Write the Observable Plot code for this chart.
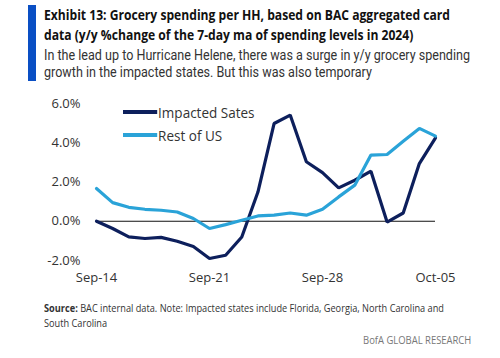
<!DOCTYPE html>
<html>
<head>
<meta charset="utf-8">
<script src="https://cdn.jsdelivr.net/npm/d3@7"></script>
<script src="https://cdn.jsdelivr.net/npm/@observablehq/plot@0.6"></script>
<style>
  html, body { margin: 0; padding: 0; background: #fff; }
  body { width: 500px; height: 358px; position: relative; overflow: hidden; font-family: "Open Sans", sans-serif; }
  .bar { position: absolute; left: 28px; top: 5px; width: 8px; height: 76px; background: #0a4fc4; }
  .fit { position: absolute; left: 44px; white-space: nowrap; transform-origin: left top; }
  .title { top: 5px; font-weight: 700; font-size: 14.5px; line-height: 20px; color: #111; }
  .subtitle { top: 48px; font-family: Roboto, "Open Sans", sans-serif; font-size: 14.5px; line-height: 16.5px; color: #333; }
  #chart { position: absolute; left: 0; top: 88px; }
  .legend { position: absolute; left: 123px; font-size: 15px; color: #333; display: flex; align-items: center; transform: scaleX(0.9); transform-origin: left center; }
  .legend .sw { width: 38px; height: 3.5px; margin-right: 1px; }
  .foot { top: 301px; font-size: 10.5px; line-height: 15px; color: #333; }
  .brand { position: absolute; right: 29px; top: 333px; font-size: 10.5px; color: #777; transform: scaleX(0.9); transform-origin: right top; }
</style>
</head>
<body>
<div class="bar"></div>
<div class="fit title" data-w="406">Exhibit 13: Grocery spending per HH, based on BAC aggregated card<br>data (y/y %change of the 7-day ma of spending levels in 2024)</div>
<div class="fit subtitle" data-w="426">In the lead up to Hurricane Helene, there was a surge in y/y grocery spending<br>growth in the impacted states. But this was also temporary</div>
<div id="chart"></div>
<div class="legend" style="top:102px"><div class="sw" style="background:#0d1f5c"></div>Impacted Sates</div>
<div class="legend" style="top:125px"><div class="sw" style="background:#2aa3d8"></div>Rest of US</div>
<div class="fit foot" data-w="400"><b>Source:</b> BAC internal data. Note: Impacted states include Florida, Georgia, North Carolina and<br>South Carolina</div>
<div class="brand">BofA GLOBAL RESEARCH</div>
<script>
document.querySelectorAll(".fit").forEach(el => {
  const w = el.getBoundingClientRect().width;
  el.style.transform = `scaleX(${(+el.dataset.w / w).toFixed(4)})`;
});

const dates = ["2024-09-14","2024-09-15","2024-09-16","2024-09-17","2024-09-18","2024-09-19","2024-09-20","2024-09-21","2024-09-22","2024-09-23","2024-09-24","2024-09-25","2024-09-26","2024-09-27","2024-09-28","2024-09-29","2024-09-30","2024-10-01","2024-10-02","2024-10-03","2024-10-04","2024-10-05"];
const impacted = [0.0,-0.37,-0.8,-0.88,-0.82,-1.02,-1.29,-1.9,-1.73,-0.8,1.49,4.98,5.41,3.03,2.48,1.7,2.09,2.55,-0.04,0.42,2.94,4.25];
const restOfUS = [1.67,0.95,0.71,0.61,0.56,0.47,0.14,-0.37,-0.17,0.05,0.27,0.31,0.42,0.31,0.61,1.24,1.84,3.37,3.4,4.08,4.73,4.34];
const seriesNames = ["Impacted Sates","Rest of US"];
const seriesColors = ["#0d1f5c","#2aa3d8"];
const yTicks = [-2,0,2,4,6];
const xTicks = ["2024-09-14","2024-09-21","2024-09-28","2024-10-05"];

const parse = d3.utcParse("%Y-%m-%d");
const rows = [];
dates.forEach((d, i) => {
  rows.push({date: parse(d), value: impacted[i], series: seriesNames[0]});
  rows.push({date: parse(d), value: restOfUS[i], series: seriesNames[1]});
});

const chart = Plot.plot({
  width: 500,
  height: 205,
  marginLeft: 96,
  marginRight: 65,
  marginTop: 15,
  marginBottom: 33,
  style: {fontFamily: "Open Sans, sans-serif", fontSize: "13px", color: "#333", background: "transparent"},
  x: {type: "utc", domain: [parse(dates[0]), parse(dates[dates.length-1])], ticks: xTicks.map(parse), tickFormat: d3.utcFormat("%b-%d"), tickSize: 0, tickPadding: 12, label: null},
  y: {domain: [-2, 6], ticks: yTicks, tickFormat: d => d.toFixed(1) + "%", tickSize: 0, tickPadding: 16, label: null},
  color: {domain: seriesNames, range: seriesColors},
  marks: [
    Plot.ruleY([0], {stroke: "#111", strokeWidth: 1.2}),
    Plot.line(rows, {x: "date", y: "value", z: "series", stroke: "series", strokeWidth: 3.2, strokeLinejoin: "miter"})
  ]
});
document.getElementById("chart").appendChild(chart);
</script>
</body>
</html>
